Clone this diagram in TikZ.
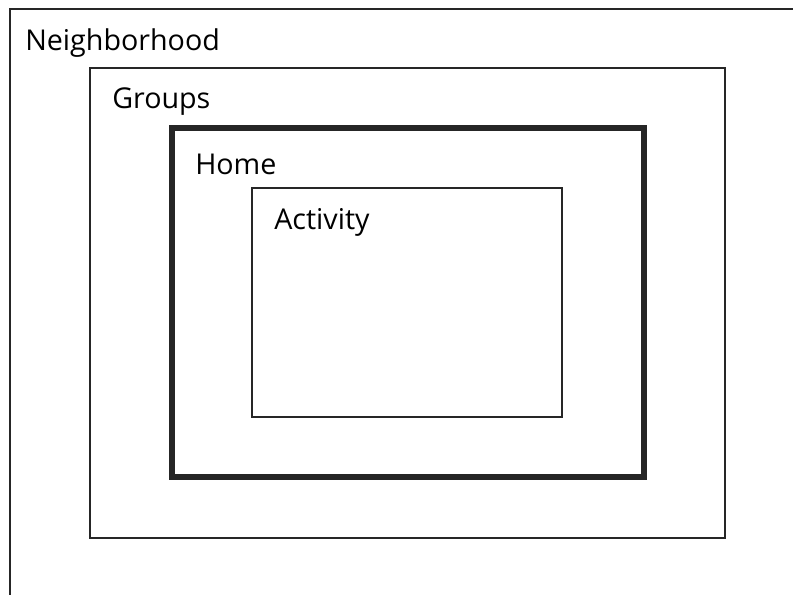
\documentclass[tikz,border=0pt]{standalone}
\usepackage{fontspec}
\setmainfont{Open Sans}
\usepackage{tikz}
\tikzset{
  lvl/.style={draw=black!85,line width=1.3pt},
  homebox/.style={draw=black!85,line width=3.8pt},
  lbl/.style={anchor=west,inner sep=0pt,font=\fontsize{21.5}{24}\selectfont}
}
\begin{document}
\begin{tikzpicture}[x=0.75pt,y=-0.75pt]
\useasboundingbox (0,0) rectangle (793,595);
\clip (0,0) rectangle (793,595);
\draw[lvl,line width=1.1pt] (10,9) rectangle (820,640);
\draw[lvl] (90,68) rectangle (725,538);
\draw[homebox] (172,128) rectangle (644,477);
\draw[lvl] (252,188) rectangle (562,417);
\node[lbl] (nbh) at (25,43) {Neighborhood};
\node[lbl] (grp) at (112,102) {Groups};
\node[lbl] (home) at (195,164) {Home};
\node[lbl] (act) at (274,222) {Activity};
\end{tikzpicture}
\end{document}
